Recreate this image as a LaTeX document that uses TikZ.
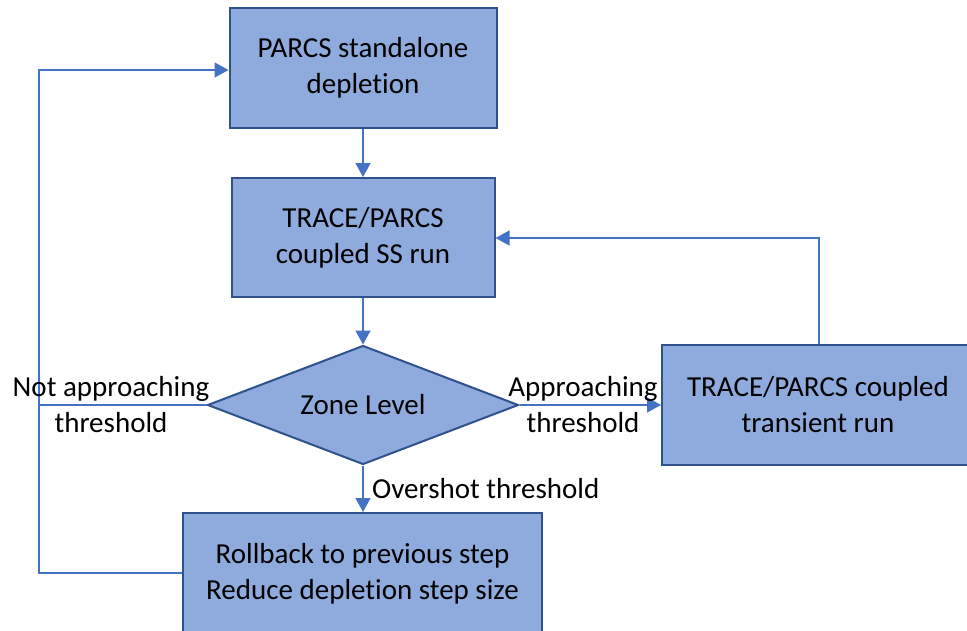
\documentclass[tikz,border=0pt]{standalone}
\usepackage{fontspec}
\setmainfont[Ligatures=NoCommon]{Carlito}
\usetikzlibrary{shapes.geometric,arrows.meta}
\definecolor{boxfill}{HTML}{8FAADC}
\definecolor{boxline}{HTML}{2F528F}
\definecolor{conn}{HTML}{4472C4}
\begin{document}
\begin{tikzpicture}[x=1pt,y=-1pt,
  every node/.style={font=\fontsize{29}{36}\selectfont, align=center, inner sep=0pt},
  procbox/.style={draw=boxline, fill=boxfill, line width=2pt, rectangle},
  decis/.style={draw=boxline, fill=boxfill, line width=2pt, diamond, aspect=2.6, minimum width=311pt, minimum height=119pt},
  conline/.style={draw=conn, line width=1.4pt},
  conarrow/.style={conline, -{Triangle[length=14pt,width=15pt]}},
  lbl/.style={fill=none}]
\useasboundingbox (0,0) rectangle (967,630);
\node[procbox, minimum width=267pt, minimum height=120pt] (p1) at (363,68) {PARCS standalone\\depletion};
\node[procbox, minimum width=263pt, minimum height=119pt] (p2) at (363,237.5) {TRACE/PARCS\\coupled SS run};
\node[decis] (z) at (363,405) {Zone Level};
\node[procbox, minimum width=312pt, minimum height=120pt] (t) at (818,405) {TRACE/PARCS coupled\\transient run};
\node[procbox, minimum width=359pt, minimum height=122pt] (r) at (362.5,574) {Rollback to previous step\\Reduce depletion step size};
\coordinate (lb) at (39,573);
\coordinate (lt) at (39,70);
\coordinate (lz) at (39,405);
\coordinate (rt) at (819,238);
\draw[conarrow] (p1.south) -- (p2.north);
\draw[conarrow] (p2.south) -- (z.north);
\draw[conarrow] (z.east) -- (t.west);
\draw[conarrow] (z.south) -- (z.south |- r.north);
\draw[conarrow] (r.west |- lb) -- (lb) -- (lt) -- (p1.west |- lt);
\draw[conline] (z.west) -- (lz);
\draw[conarrow] (t.north -| rt) -- (rt) -- (p2.east |- rt);
\node[lbl] (l1) at (111,405) {Not approaching\\threshold};
\node[lbl] (l2) at (583,405) {Approaching\\threshold};
\node[lbl, anchor=west] (l3) at (372,489) {Overshot threshold};
\end{tikzpicture}
\end{document}
